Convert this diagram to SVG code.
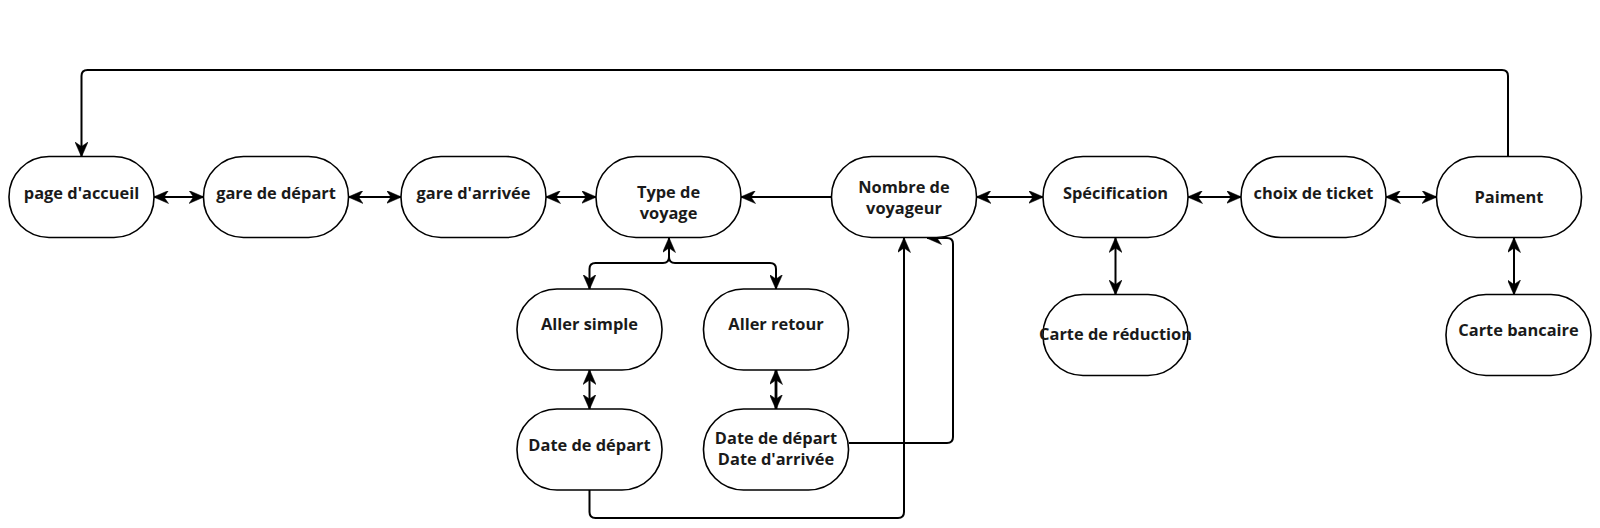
<svg xmlns="http://www.w3.org/2000/svg" width="1600" height="528" viewBox="0 0 1600 528">
<defs>
<style>
.n rect{fill:#fff;stroke:#000;stroke-width:1.6}
.n text{font-family:"Open Sans","Liberation Sans",sans-serif;font-weight:bold;font-size:16.4px;fill:#1a1a1a;text-anchor:middle}
.c path{fill:none;stroke:#000;stroke-width:2}
.c .bi{marker-start:url(#ah);marker-end:url(#ah)}
.c .en{marker-end:url(#ah)}
</style>
<marker id="ah" markerUnits="userSpaceOnUse" viewBox="0 0 15 13" refX="14.5" refY="6.5" markerWidth="15" markerHeight="13" orient="auto-start-reverse">
<path d="M0,0 L15,6.5 L0,13 L4.5,6.5 Z" fill="#000" stroke="#000" stroke-width="0.5"/>
</marker>
</defs>
<rect width="1600" height="528" fill="#fff"/>
<g id="connectors" class="c">
<path class="bi" d="M154,197 H203.5"/>
<path class="bi" d="M348.5,197 H401"/>
<path class="bi" d="M546,197 H596"/>
<path class="en" d="M831.5,197 H741"/>
<path class="bi" d="M976.5,197 H1043"/>
<path class="bi" d="M1188,197 H1241"/>
<path class="bi" d="M1386,197 H1436.5"/>
<path class="en" d="M1508,156.5 V76 Q1508,70 1502,70 H87.5 Q81.5,70 81.5,76 V156.5"/>
<path class="bi" d="M669,238 V257 Q669,263 663,263 H595.5 Q589.5,263 589.5,269 V289"/>
<path class="en" d="M669,238 V257 Q669,263 675,263 H770 Q776,263 776,269 V289"/>
<path class="bi" d="M589.5,370 V409"/>
<path class="bi" d="M776,370 V409" style="stroke-width:2.8"/>
<path class="en" d="M589.5,490 V512 Q589.5,518 595.5,518 H898 Q904,518 904,512 V238"/>
<path class="en" d="M849,443 H947 Q953,443 953,437 V244 Q953,238 947,238 H927"/>
<path class="bi" d="M1115.5,238 V294.5"/>
<path class="bi" d="M1514,238 V294.5"/>
</g>
<g id="n1" class="n"><rect x="9" y="156.5" width="145" height="81" rx="40" ry="40"/><text x="81.5" y="199">page d'accueil</text></g>
<g id="n2" class="n"><rect x="203.5" y="156.5" width="145" height="81" rx="40" ry="40"/><text x="276" y="199">gare de départ</text></g>
<g id="n3" class="n"><rect x="401" y="156.5" width="145" height="81" rx="40" ry="40"/><text x="473.5" y="199">gare d'arrivée</text></g>
<g id="n4" class="n"><rect x="596" y="156.5" width="145" height="81" rx="40" ry="40"/><text x="668.5" y="198">Type de</text><text x="668.5" y="219">voyage</text></g>
<g id="n5" class="n"><rect x="831.5" y="156.5" width="145" height="81" rx="40" ry="40"/><text x="904" y="192.5">Nombre de</text><text x="904" y="213.5">voyageur</text></g>
<g id="n6" class="n"><rect x="1043" y="156.5" width="145" height="81" rx="40" ry="40"/><text x="1115.5" y="199">Spécification</text></g>
<g id="n7" class="n"><rect x="1241" y="156.5" width="145" height="81" rx="40" ry="40"/><text x="1313.5" y="199">choix de ticket</text></g>
<g id="n8" class="n"><rect x="1436.5" y="156.5" width="145" height="81" rx="40" ry="40"/><text x="1509" y="203">Paiment</text></g>
<g id="n9" class="n"><rect x="517" y="289" width="145" height="81" rx="40" ry="40"/><text x="589.5" y="330">Aller simple</text></g>
<g id="n10" class="n"><rect x="703.5" y="289" width="145" height="81" rx="40" ry="40"/><text x="776" y="330">Aller retour</text></g>
<g id="n11" class="n"><rect x="517" y="409" width="145" height="81" rx="40" ry="40"/><text x="589.5" y="451">Date de départ</text></g>
<g id="n12" class="n"><rect x="703.5" y="409" width="145" height="81" rx="40" ry="40"/><text x="776" y="444">Date de départ</text><text x="776" y="465">Date d'arrivée</text></g>
<g id="n13" class="n"><rect x="1043" y="294.5" width="145" height="81" rx="40" ry="40"/><text x="1115.5" y="340">Carte de réduction</text></g>
<g id="n14" class="n"><rect x="1446" y="294.5" width="145" height="81" rx="40" ry="40"/><text x="1518.5" y="336">Carte bancaire</text></g>
</svg>
